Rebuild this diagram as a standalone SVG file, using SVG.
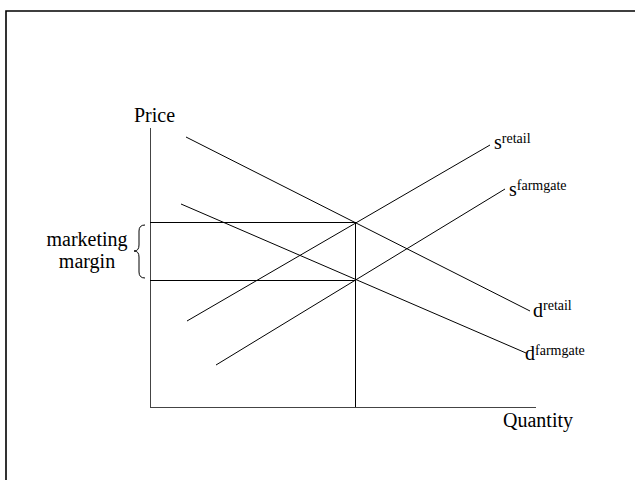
<svg xmlns="http://www.w3.org/2000/svg" width="635" height="480" viewBox="0 0 635 480">
<style>
text{font-family:"Liberation Serif","Times New Roman",serif;fill:#000}
.lbl{font-size:20px}
.sup{font-size:14px}
.ln{stroke:#000;stroke-width:1;fill:none}
.ax{stroke:#444;stroke-width:1;fill:none}
</style>
<rect width="635" height="480" fill="#fff"/>
<polyline points="6,480 6,11 635,11" fill="none" stroke="#000" stroke-width="1.6"/>
<g id="axes">
<line class="ax" x1="150.5" y1="128" x2="150.5" y2="407.5"/>
<line class="ax" x1="150" y1="407.5" x2="536" y2="407.5" stroke="#222"/>
<text id="price" class="lbl" x="134" y="122">Price</text>
<text id="quantity" class="lbl" x="503" y="427">Quantity</text>
</g>
<g id="connectors">
<line class="ln" x1="186" y1="137" x2="530" y2="311"/>
<line class="ln" x1="181" y1="204" x2="526" y2="353"/>
<line class="ln" x1="187" y1="321" x2="490" y2="145"/>
<line class="ln" x1="216" y1="365" x2="505" y2="189"/>
<line class="ln" x1="150" y1="222.5" x2="355.5" y2="222.5"/>
<line class="ln" x1="150" y1="280.5" x2="355.5" y2="280.5"/>
<line class="ln" x1="355.5" y1="222" x2="355.5" y2="407"/>
</g>
<g id="margin">
<path class="ln" d="M145,225 Q139,225 139,231 L139,245 Q139,251 134,251 Q139,251 139,257 L139,272 Q139,278 145,278"/>
<text class="lbl" x="87" y="246" text-anchor="middle">marketing</text>
<text class="lbl" x="87" y="268" text-anchor="middle">margin</text>
</g>
<g id="s-retail"><text class="lbl" x="494" y="149">s<tspan class="sup" dy="-6">retail</tspan></text></g>
<g id="s-farmgate"><text class="lbl" x="509" y="196">s<tspan class="sup" dy="-6">farmgate</tspan></text></g>
<g id="d-retail"><text class="lbl" x="533" y="317">d<tspan class="sup" dy="-7">retail</tspan></text></g>
<g id="d-farmgate"><text class="lbl" x="525" y="360">d<tspan class="sup" dy="-5">farmgate</tspan></text></g>
</svg>
